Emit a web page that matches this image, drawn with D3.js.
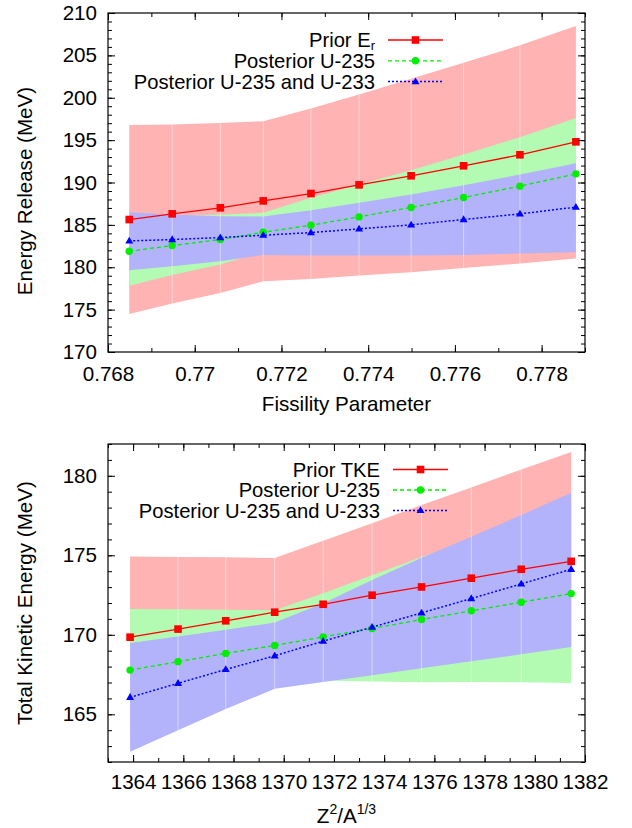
<!DOCTYPE html>
<html>
<head>
<meta charset="utf-8">
<script src="https://cdn.jsdelivr.net/npm/d3@7"></script>
<style>
  html, body { margin: 0; padding: 0; background: #fff; }
  svg { display: block; font-family: "Liberation Sans", Arial, Helvetica, sans-serif; }
</style>
</head>
<body>
<svg id="chart" width="632" height="828"></svg>
<script>
// ---------------- DATA ----------------
// Top panel: Energy Release vs Fissility Parameter
const fissility = [0.76849, 0.76948, 0.77059, 0.77158, 0.77268, 0.77379, 0.77499, 0.77620, 0.77750, 0.77879];
const erPrior    = [185.63, 186.30, 187.01, 187.83, 188.70, 189.72, 190.79, 191.97, 193.27, 194.80];
const erPriorLo  = [174.49, 175.71, 176.97, 178.35, 178.62, 179.02, 179.41, 179.92, 180.43, 181.02];
const erPriorHi  = [196.77, 196.85, 197.01, 197.24, 198.74, 200.39, 202.24, 204.13, 206.18, 208.46];
const erPost235   = [181.89, 182.56, 183.27, 184.13, 184.96, 185.94, 187.05, 188.23, 189.57, 191.02];
const erPost235Lo = [177.83, 179.09, 180.31, 181.85, 181.73, 182.12, 182.64, 183.15, 183.79, 184.44];
const erPost235Hi = [185.94, 186.02, 186.22, 186.42, 188.19, 189.76, 191.46, 193.31, 195.35, 197.60];
const erPostBoth   = [183.11, 183.27, 183.50, 183.78, 184.09, 184.53, 185.00, 185.63, 186.30, 187.09];
const erPostBothLo = [179.65, 180.12, 180.71, 181.46, 181.38, 181.38, 181.38, 181.46, 181.61, 181.77];
const erPostBothHi = [186.50, 186.22, 186.02, 185.98, 186.73, 187.60, 188.58, 189.69, 190.94, 192.28];
const erXTicks = [0.768, 0.770, 0.772, 0.774, 0.776, 0.778];
const erYTicks = [170, 175, 180, 185, 190, 195, 200, 205, 210];

// Bottom panel: Total Kinetic Energy vs Z^2/A^(1/3)
const zParam = [1363.88, 1365.79, 1367.69, 1369.64, 1371.57, 1373.52, 1375.49, 1377.47, 1379.46, 1381.45];
const tkePrior   = [169.85, 170.36, 170.88, 171.42, 171.92, 172.49, 173.01, 173.56, 174.12, 174.62];
const tkePriorLo = [164.78, 165.82, 166.89, 168.01, 167.92, 167.97, 167.86, 167.85, 167.84, 167.75];
const tkePriorHi = [174.92, 174.90, 174.87, 174.83, 175.92, 177.01, 178.16, 179.27, 180.40, 181.49];
const tkePost235   = [167.78, 168.31, 168.83, 169.33, 169.87, 170.40, 170.96, 171.51, 172.05, 172.59];
const tkePost235Lo = [163.93, 165.01, 166.09, 167.11, 167.12, 167.06, 167.02, 167.03, 167.01, 166.97];
const tkePost235Hi = [171.63, 171.61, 171.57, 171.55, 172.62, 173.74, 174.90, 175.99, 177.09, 178.21];
const tkePostBoth   = [166.07, 166.95, 167.82, 168.68, 169.60, 170.48, 171.38, 172.28, 173.20, 174.12];
const tkePostBothLo = [162.65, 164.00, 165.33, 166.60, 167.03, 167.45, 167.89, 168.33, 168.77, 169.23];
const tkePostBothHi = [169.48, 169.90, 170.31, 170.77, 171.99, 173.45, 174.85, 176.17, 177.53, 178.93];
const tkeXTicks = [1364, 1366, 1368, 1370, 1372, 1374, 1376, 1378, 1380, 1382];
const tkeYTicks = [165, 170, 175, 180];

const seriesNames = ["Posterior U-235", "Posterior U-235 and U-233"];

// ---------------- DRAWING ----------------
const svg = d3.select("#chart");
const FONT = 20.6;
const LFONT = 20.2;
const colors = {
  red: "#ff0000", green: "#00ee00", blue: "#0000ff",
  redBand: "#ffb3b3", greenBand: "#b3fbb3", blueBand: "#b3b3fb"
};

function drawPanel(cfg) {
  const { box, xDomain, yDomain, x, bands, xTicks, xMinor, yTicks, yMinor, xFmt, legend } = cfg;
  const xs = d3.scaleLinear().domain(xDomain).range([box.left, box.right]);
  const ys = d3.scaleLinear().domain(yDomain).range([box.bottom, box.top]);
  const g = svg.append("g");
  const clipId = "clip" + cfg.id;
  svg.append("clipPath").attr("id", clipId).append("rect")
    .attr("x", box.left).attr("y", box.top)
    .attr("width", box.right - box.left).attr("height", box.bottom - box.top);
  const plot = g.append("g").attr("clip-path", `url(#${clipId})`);

  // bands
  bands.forEach(b => {
    const area = d3.area()
      .x((d, i) => xs(x[i]))
      .y0((d, i) => ys(b.lo[i]))
      .y1((d, i) => ys(b.hi[i]));
    plot.append("path").datum(b.lo).attr("d", area).attr("fill", b.fill).attr("stroke", "none");
  });
  // faint seams between polygon segments
  for (let i = 1; i < x.length - 1; i++) {
    const top = d3.max(bands, b => b.hi[i]);
    const bot = d3.min(bands, b => b.lo[i]);
    plot.append("line")
      .attr("x1", xs(x[i])).attr("x2", xs(x[i]))
      .attr("y1", ys(top)).attr("y2", ys(bot))
      .attr("stroke", "#ffffff").attr("stroke-opacity", 0.45).attr("stroke-width", 1);
  }
  // lines
  bands.forEach(b => {
    const line = d3.line().x((d, i) => xs(x[i])).y(d => ys(d));
    plot.append("path").datum(b.mean).attr("d", line)
      .attr("fill", "none").attr("stroke", b.color)
      .attr("stroke-width", b.width).attr("stroke-dasharray", b.dash);
  });
  // markers
  bands.forEach(b => {
    b.mean.forEach((v, i) => drawMarker(plot, b.marker, xs(x[i]), ys(v), b.color));
  });

  // axes
  const maj = 7, mnr = 4;
  g.append("g").attr("transform", `translate(0,${box.bottom})`)
    .call(d3.axisBottom(xs).tickValues(xMinor).tickSizeInner(-mnr).tickSizeOuter(0).tickFormat(""))
    .call(a => a.select(".domain").remove());
  g.append("g").attr("transform", `translate(0,${box.top})`)
    .call(d3.axisTop(xs).tickValues(xMinor).tickSizeInner(-mnr).tickSizeOuter(0).tickFormat(""))
    .call(a => a.select(".domain").remove());
  g.append("g").attr("transform", `translate(${box.left},0)`)
    .call(d3.axisLeft(ys).tickValues(yMinor).tickSizeInner(-mnr).tickSizeOuter(0).tickFormat(""))
    .call(a => a.select(".domain").remove());
  g.append("g").attr("transform", `translate(${box.right},0)`)
    .call(d3.axisRight(ys).tickValues(yMinor).tickSizeInner(-mnr).tickSizeOuter(0).tickFormat(""))
    .call(a => a.select(".domain").remove());

  g.append("g").attr("transform", `translate(0,${box.bottom})`)
    .call(d3.axisBottom(xs).tickValues(xTicks).tickSizeInner(-maj).tickSizeOuter(0)
      .tickPadding(cfg.xPad).tickFormat(xFmt))
    .call(a => a.select(".domain").remove())
    .call(a => a.selectAll("text").attr("font-size", FONT).attr("fill", "#000")
      .attr("font-family", "Liberation Sans, Arial, sans-serif"));
  g.append("g").attr("transform", `translate(0,${box.top})`)
    .call(d3.axisTop(xs).tickValues(xTicks).tickSizeInner(-maj).tickSizeOuter(0).tickFormat(""))
    .call(a => a.select(".domain").remove());
  g.append("g").attr("transform", `translate(${box.left},0)`)
    .call(d3.axisLeft(ys).tickValues(yTicks).tickSizeInner(-maj).tickSizeOuter(0)
      .tickPadding(11).tickFormat(d3.format("d")))
    .call(a => a.select(".domain").remove())
    .call(a => a.selectAll("text").attr("font-size", FONT).attr("fill", "#000")
      .attr("font-family", "Liberation Sans, Arial, sans-serif"));
  g.append("g").attr("transform", `translate(${box.right},0)`)
    .call(d3.axisRight(ys).tickValues(yTicks).tickSizeInner(-maj).tickSizeOuter(0).tickFormat(""))
    .call(a => a.select(".domain").remove());
  g.selectAll(".tick line").attr("stroke", "#000").attr("stroke-width", 1);

  g.append("rect").attr("x", box.left).attr("y", box.top)
    .attr("width", box.right - box.left).attr("height", box.bottom - box.top)
    .attr("fill", "none").attr("stroke", "#000").attr("stroke-width", 1.2);

  // legend
  legend.rows.forEach((r, k) => {
    const y = legend.y0 + k * legend.dy;
    const t = g.append("text").attr("x", legend.textRight).attr("y", y + 7)
      .attr("text-anchor", "end").attr("font-size", LFONT).attr("fill", "#000");
    r.label(t);
    const b = bands[r.band];
    g.append("line").attr("x1", legend.lineX0).attr("x2", legend.lineX1)
      .attr("y1", y).attr("y2", y).attr("stroke", b.color)
      .attr("stroke-width", b.width).attr("stroke-dasharray", b.dash);
    drawMarker(g, b.marker, (legend.lineX0 + legend.lineX1) / 2, y, b.color);
  });

  // axis titles
  const yt = g.append("text")
    .attr("transform", `translate(${cfg.yTitleX},${cfg.yTitleY}) rotate(-90)`)
    .attr("text-anchor", "middle").attr("font-size", FONT).attr("fill", "#000");
  cfg.yTitle(yt);
  const xt = g.append("text").attr("x", (box.left + box.right) / 2).attr("y", cfg.xTitleY)
    .attr("text-anchor", "middle").attr("font-size", FONT).attr("fill", "#000");
  cfg.xTitle(xt);
}

function drawMarker(sel, type, cx, cy, color) {
  if (type === "square") {
    sel.append("rect").attr("x", cx - 3.8).attr("y", cy - 3.8).attr("width", 7.6).attr("height", 7.6)
      .attr("fill", color);
  } else if (type === "circle") {
    sel.append("circle").attr("cx", cx).attr("cy", cy).attr("r", 3.7).attr("fill", color);
  } else {
    sel.append("path").attr("d", `M${cx},${cy - 4.2} L${cx + 4},${cy + 2.6} L${cx - 4},${cy + 2.6} Z`)
      .attr("fill", color);
  }
}

function stepRange(a, b, s) {
  const n = Math.round((b - a) / s);
  return d3.range(n + 1).map(i => +(a + i * s).toFixed(6));
}

// Top panel
drawPanel({
  id: "top",
  box: { left: 108, right: 585, top: 13, bottom: 352 },
  xDomain: [0.768, 0.779], yDomain: [170, 210],
  x: fissility,
  bands: [
    { lo: erPriorLo, hi: erPriorHi, mean: erPrior, fill: colors.redBand, color: colors.red, width: 1.3, dash: null, marker: "square" },
    { lo: erPost235Lo, hi: erPost235Hi, mean: erPost235, fill: colors.greenBand, color: colors.green, width: 1.3, dash: "4,3", marker: "circle" },
    { lo: erPostBothLo, hi: erPostBothHi, mean: erPostBoth, fill: colors.blueBand, color: colors.blue, width: 1.5, dash: "2,2", marker: "triangle" }
  ],
  xTicks: erXTicks, xMinor: stepRange(0.768, 0.779, 0.001),
  yTicks: erYTicks, yMinor: stepRange(170, 210, 1),
  xFmt: d => String(+d.toFixed(3)),
  xPad: 14,
  legend: {
    y0: 40, dy: 20.8, textRight: 375, lineX0: 388, lineX1: 443,
    rows: [
      { band: 0, label: t => { t.append("tspan").text("Prior E"); t.append("tspan").attr("font-size", 13).attr("dy", 3).text("r"); } },
      { band: 1, label: t => t.text(seriesNames[0]) },
      { band: 2, label: t => t.text(seriesNames[1]) }
    ]
  },
  yTitleX: 32, yTitleY: 191,
  yTitle: t => t.text("Energy Release (MeV)"),
  xTitleY: 411,
  xTitle: t => t.text("Fissility Parameter")
});

// Bottom panel
drawPanel({
  id: "bot",
  box: { left: 108, right: 585, top: 444, bottom: 762 },
  xDomain: [1363, 1382], yDomain: [162, 182],
  x: zParam,
  bands: [
    { lo: tkePriorLo, hi: tkePriorHi, mean: tkePrior, fill: colors.redBand, color: colors.red, width: 1.3, dash: null, marker: "square" },
    { lo: tkePost235Lo, hi: tkePost235Hi, mean: tkePost235, fill: colors.greenBand, color: colors.green, width: 1.3, dash: "4,3", marker: "circle" },
    { lo: tkePostBothLo, hi: tkePostBothHi, mean: tkePostBoth, fill: colors.blueBand, color: colors.blue, width: 1.5, dash: "2,2", marker: "triangle" }
  ],
  xTicks: tkeXTicks, xMinor: stepRange(1363, 1382, 1),
  yTicks: tkeYTicks, yMinor: stepRange(162, 182, 1),
  xFmt: d3.format("d"),
  xPad: 12,
  legend: {
    y0: 469.5, dy: 20.5, textRight: 380, lineX0: 393, lineX1: 448,
    rows: [
      { band: 0, label: t => t.text("Prior TKE") },
      { band: 1, label: t => t.text(seriesNames[0]) },
      { band: 2, label: t => t.text(seriesNames[1]) }
    ]
  },
  yTitleX: 32, yTitleY: 603,
  yTitle: t => t.text("Total Kinetic Energy (MeV)"),
  xTitleY: 823,
  xTitle: t => {
    t.append("tspan").text("Z");
    t.append("tspan").attr("font-size", 14).attr("dy", -9).text("2");
    t.append("tspan").attr("dy", 9).text("/A");
    t.append("tspan").attr("font-size", 14).attr("dy", -9).text("1/3");
  }
});
</script>
</body>
</html>
